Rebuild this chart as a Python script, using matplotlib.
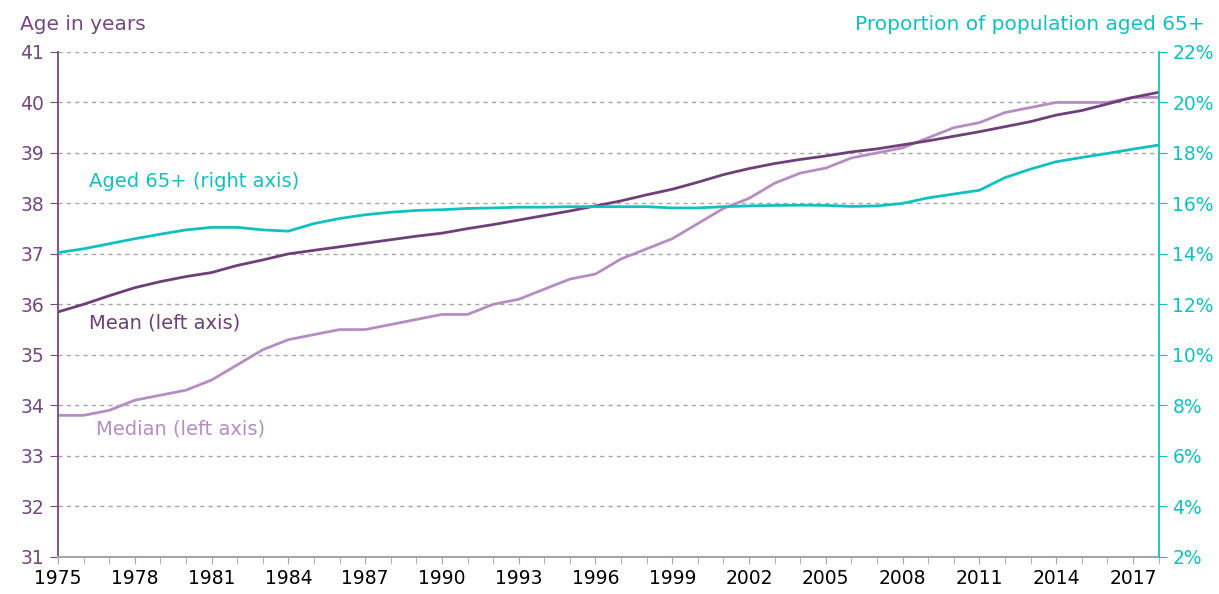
import numpy as np
import matplotlib.pyplot as plt
from matplotlib.ticker import MultipleLocator, FixedLocator, FuncFormatter

# data
years = np.arange(1975, 2019)
mean_age = [35.85, 36.0, 36.17, 36.33, 36.45, 36.55, 36.63, 36.77, 36.88, 37.0,
            37.07, 37.14, 37.21, 37.28, 37.35, 37.41, 37.5, 37.58, 37.67, 37.76,
            37.85, 37.95, 38.05, 38.17, 38.28, 38.42, 38.57, 38.69, 38.79, 38.87,
            38.94, 39.02, 39.08, 39.16, 39.24, 39.33, 39.42, 39.52, 39.62, 39.75,
            39.84, 39.97, 40.1, 40.2]
median_age = [33.8, 33.8, 33.9, 34.1, 34.2, 34.3, 34.5, 34.8, 35.1, 35.3,
              35.4, 35.5, 35.5, 35.6, 35.7, 35.8, 35.8, 36.0, 36.1, 36.3,
              36.5, 36.6, 36.9, 37.1, 37.3, 37.6, 37.9, 38.1, 38.4, 38.6,
              38.7, 38.9, 39.0, 39.1, 39.3, 39.5, 39.6, 39.8, 39.9, 40.0,
              40.0, 40.0, 40.1, 40.1]
aged65 = [14.05, 14.2, 14.4, 14.6, 14.78, 14.95, 15.05, 15.05, 14.95, 14.9,
          15.2, 15.4, 15.55, 15.65, 15.72, 15.75, 15.8, 15.82, 15.85, 15.85,
          15.87, 15.87, 15.87, 15.87, 15.82, 15.82, 15.87, 15.9, 15.92, 15.93,
          15.92, 15.88, 15.9, 16.0, 16.22, 16.37, 16.52, 17.02, 17.36, 17.65,
          17.82, 17.98, 18.15, 18.31]
year_labels = list(range(1975, 2019, 3))

purple_dark = '#6e3f78'
purple_light = '#b68dc2'
purple_text = '#74477f'
cyan = '#11c1c1'
grey = '#a6a6a6'

plt.rcParams['font.family'] = ['DejaVu Sans']

fig = plt.figure(figsize=(12.19, 5.94), dpi=100)
ax = fig.add_axes([0.0476, 0.0628, 0.9028, 0.8497])
ax2 = ax.twinx()

ax.plot(years, median_age, color=purple_light, lw=2)
ax.plot(years, mean_age, color=purple_dark, lw=2)
ax2.plot(years, aged65, color=cyan, lw=2)

ax.set_xlim(1975, 2018)
ax.set_ylim(31, 41)
ax2.set_ylim(2, 22)

ax.xaxis.set_major_locator(FixedLocator(year_labels))
ax.xaxis.set_minor_locator(MultipleLocator(1))
ax.yaxis.set_major_locator(MultipleLocator(1))
ax2.yaxis.set_major_locator(MultipleLocator(2))
ax2.yaxis.set_major_formatter(FuncFormatter(lambda v, p: f'{v:.0f}%'))

ax.grid(axis='y', color=grey, ls=(0, (3, 3)), lw=1)
ax.set_axisbelow(True)

for a in (ax, ax2):
    a.spines['top'].set_visible(False)
ax.spines['right'].set_visible(False)
ax2.spines['left'].set_visible(False)
ax2.spines['bottom'].set_visible(False)
ax.spines['left'].set_color(purple_text)
ax.spines['left'].set_linewidth(1.3)
ax2.spines['right'].set_color(cyan)
ax2.spines['right'].set_linewidth(1.3)
ax.spines['bottom'].set_color(grey)
ax.spines['bottom'].set_linewidth(1.5)

ax.tick_params(axis='x', which='both', colors=grey, labelcolor='black',
               labelsize=13.5, length=5, direction='out')
ax.tick_params(axis='y', colors=purple_text, labelcolor=purple_text,
               labelsize=13.5, length=6, pad=4)
ax2.tick_params(axis='y', colors=cyan, labelcolor=cyan, labelsize=13.5,
                length=6, pad=4)

fig.text(0.016, 0.958, 'Age in years', color=purple_text, fontsize=14.5,
         va='center', ha='left')
fig.text(0.988, 0.958, 'Proportion of population aged 65+', color=cyan,
         fontsize=14.5, va='center', ha='right')

ax.text(1976.2, 38.43, 'Aged 65+ (right axis)', color=cyan, fontsize=14,
        va='center', ha='left')
ax.text(1976.2, 35.63, 'Mean (left axis)', color=purple_dark, fontsize=14,
        va='center', ha='left')
ax.text(1976.5, 33.53, 'Median (left axis)', color=purple_light, fontsize=14,
        va='center', ha='left')

fig.savefig('out.png', dpi=100)
